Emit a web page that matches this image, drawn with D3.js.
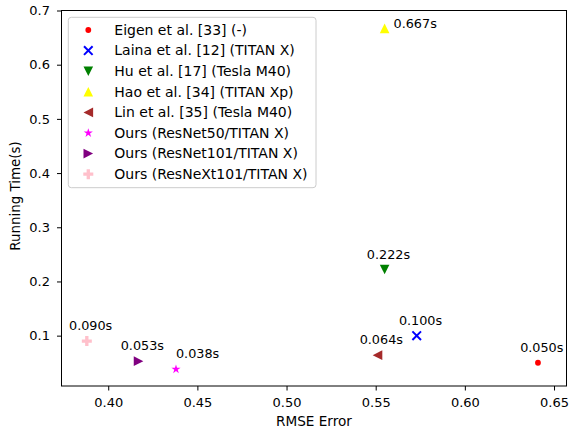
<!DOCTYPE html>
<html>
<head>
<meta charset="utf-8">
<script src="https://cdn.jsdelivr.net/npm/d3@7"></script>
<style>
  body { margin: 0; background: #fff; }
  svg { display: block; font-family: "DejaVu Sans", sans-serif; }
  .axis text { font-size: 13px; fill: #000; font-family: "DejaVu Sans", sans-serif; }
  .axis path, .axis line { stroke: #000; stroke-width: 1; }
</style>
</head>
<body>
<div id="chart"></div>
<script>
// running time vs RMSE
const METHODS = ["Eigen et al. [33] (-)", "Laina et al. [12] (TITAN X)", "Hu et al. [17] (Tesla M40)",
                 "Hao et al. [34] (TITAN Xp)", "Lin et al. [35] (Tesla M40)", "Ours (ResNet50/TITAN X)",
                 "Ours (ResNet101/TITAN X)", "Ours (ResNeXt101/TITAN X)"];
const RMSE   = [0.641, 0.573, 0.555, 0.555, 0.551, 0.438, 0.417, 0.388];
const TIMES  = [0.050, 0.100, 0.222, 0.667, 0.064, 0.038, 0.053, 0.090];
const LABELS = ["0.050s", "0.100s", "0.222s", "0.667s", "0.064s", "0.038s", "0.053s", "0.090s"];
const X_TICKS = [0.40, 0.45, 0.50, 0.55, 0.60, 0.65];
const Y_TICKS = [0.1, 0.2, 0.3, 0.4, 0.5, 0.6, 0.7];

// styles
const COLORS  = ["#ff0000", "#0000ff", "#008000", "#ffff00", "#a52a2a", "#ff00ff", "#800080", "#ffc0cb"];
const SHAPES  = ["dot", "x", "tri_down", "tri_up", "tri_left", "star", "tri_right", "plus"];
// annotation offsets in data units
const LABEL_DX = [-0.01, -0.01, -0.01, 0.005, -0.01, 0, -0.01, -0.01];
const LABEL_DY = [0.02, 0.02, 0.02, 0, 0.02, 0.02, 0.02, 0.02];

const totalW = 569, totalH = 430;
const margin = { top: 10.5, right: 2.5, bottom: 44, left: 61.5 };
const W = totalW - margin.left - margin.right;
const H = totalH - margin.top - margin.bottom;

const svg = d3.select("#chart").append("svg")
    .attr("width", totalW).attr("height", totalH);
const g = svg.append("g").attr("transform", `translate(${margin.left},${margin.top})`);

const x = d3.scaleLinear().domain([0.3738, 0.657]).range([0, W]);
const y = d3.scaleLinear().domain([0.0071, 0.7]).range([H, 0]);

function markerPath(shape) {
    const p = d3.path();
    if (shape === "dot") { p.arc(0, 0, 2.9, 0, 2 * Math.PI); return p.toString(); }
    if (shape === "x") { const s = 4.3; p.moveTo(-s, -s); p.lineTo(s, s); p.moveTo(-s, s); p.lineTo(s, -s); return p.toString(); }
    const s = 4.8;
    if (shape === "tri_up")    { p.moveTo(0, -s); p.lineTo(s, s); p.lineTo(-s, s); p.closePath(); }
    if (shape === "tri_down")  { p.moveTo(0, s); p.lineTo(s, -s); p.lineTo(-s, -s); p.closePath(); }
    if (shape === "tri_left")  { p.moveTo(-s, 0); p.lineTo(s, -s); p.lineTo(s, s); p.closePath(); }
    if (shape === "tri_right") { p.moveTo(s, 0); p.lineTo(-s, -s); p.lineTo(-s, s); p.closePath(); }
    if (shape === "star") {
        const r1 = 4.8, r2 = r1 * 0.382;
        for (let i = 0; i < 10; i++) {
            const r = i % 2 ? r2 : r1, a = -Math.PI / 2 + i * Math.PI / 5;
            i ? p.lineTo(r * Math.cos(a), r * Math.sin(a)) : p.moveTo(r * Math.cos(a), r * Math.sin(a));
        }
        p.closePath();
    }
    if (shape === "plus") {
        const a = 5, b = 5 / 3;
        const pts = [[-b,-a],[b,-a],[b,-b],[a,-b],[a,b],[b,b],[b,a],[-b,a],[-b,b],[-a,b],[-a,-b],[-b,-b]];
        pts.forEach((q, i) => i ? p.lineTo(q[0], q[1]) : p.moveTo(q[0], q[1]));
        p.closePath();
    }
    return p.toString();
}

function drawMarker(sel, i) {
    const path = sel.append("path").attr("d", markerPath(SHAPES[i]));
    if (SHAPES[i] === "x") path.attr("fill", "none").attr("stroke", COLORS[i]).attr("stroke-width", 2);
    else path.attr("fill", COLORS[i]).attr("stroke", "none");
}

// axes
g.append("g").attr("class", "axis").attr("transform", `translate(0,${H})`)
    .call(d3.axisBottom(x).tickValues(X_TICKS).tickFormat(d3.format(".2f")).tickSizeInner(4.5).tickSizeOuter(0).tickPadding(7.5));
g.append("g").attr("class", "axis")
    .call(d3.axisLeft(y).tickValues(Y_TICKS).tickFormat(d3.format(".1f")).tickSizeInner(4.5).tickSizeOuter(0).tickPadding(7));
g.selectAll(".axis .domain").remove();
g.append("rect").attr("width", W).attr("height", H)
    .attr("fill", "none").attr("stroke", "#000").attr("stroke-width", 1);

// points + annotations
RMSE.forEach((r, i) => {
    const m = g.append("g").attr("transform", `translate(${x(r)},${y(TIMES[i])})`);
    drawMarker(m, i);
    g.append("text")
        .attr("x", x(r + LABEL_DX[i])).attr("y", y(TIMES[i] + LABEL_DY[i]))
        .style("font-size", "12.8px").style("fill", "#000")
        .text(LABELS[i]);
});

// legend
const lg = g.append("g").attr("transform", `translate(${68.3 - margin.left},${17.3 - margin.top})`);
lg.append("rect").attr("width", 247.7).attr("height", 170.4).attr("rx", 3)
    .attr("fill", "#fff").attr("fill-opacity", 0.8).attr("stroke", "#cccccc").attr("stroke-width", 1);
METHODS.forEach((name, i) => {
    const rowY = 12.7 + i * 20.6;
    const m = lg.append("g").attr("transform", `translate(20,${rowY})`);
    drawMarker(m, i);
    lg.append("text").attr("x", 46).attr("y", rowY + 4.8)
        .style("font-size", "14px").style("fill", "#000").text(name);
});

// axis titles
svg.append("text").attr("x", margin.left + W / 2).attr("y", 425.7)
    .attr("text-anchor", "middle").style("font-size", "13.6px").text("RMSE Error");
svg.append("text").attr("transform", `translate(20,196) rotate(-90)`)
    .attr("text-anchor", "middle").style("font-size", "13.4px").text("Running Time(s)");
</script>
</body>
</html>
